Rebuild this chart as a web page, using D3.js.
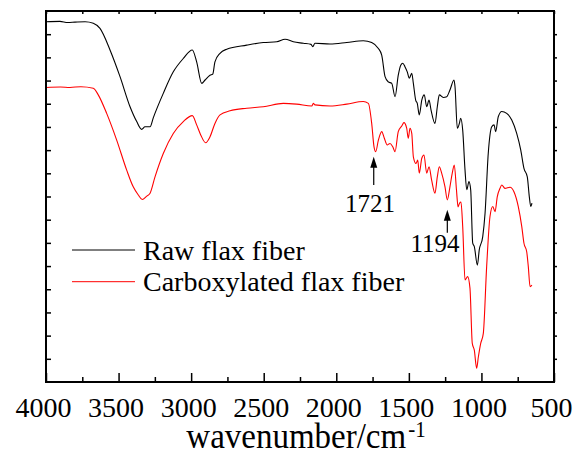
<!DOCTYPE html>
<html>
<head>
<meta charset="utf-8">
<script src="https://cdn.jsdelivr.net/npm/d3@7"></script>
</head>
<body style="margin:0">
<div id="chart"></div>
<script>
// series names and colours
var seriesNames = ["Raw flax fiber", "Carboxylated flax fiber"];
var seriesColors = ["#000000", "#ff0000"];

// x tick labels (wavenumber, cm-1)
var majorTicks = [4000, 3500, 3000, 2500, 2000, 1500, 1000, 500];
var minorTicks = [3750, 3250, 2750, 2250, 1750, 1250, 750];

// spectra: [wavenumber, transmittance (a.u.)]
var rawFlax = [
  [4000, 97.1], [3904, 97.2], [3850, 96.9], [3800, 97.0], [3731, 97.1], [3674, 96.7],
  [3628, 95.3], [3559, 89.5], [3490, 82.3], [3421, 74.2], [3375, 70.2], [3341, 68.1],
  [3318, 68.8], [3283, 68.8], [3261, 71.2], [3192, 77.8], [3123, 83.6], [3054, 87.2],
  [2992, 89.5], [2962, 86.3], [2927, 80.5], [2904, 81.4], [2870, 82.7], [2851, 83.0],
  [2836, 86.3], [2801, 88.6], [2755, 89.7], [2617, 90.8], [2503, 91.5], [2410, 91.7],
  [2353, 92.4], [2296, 91.7], [2227, 91.3], [2174, 91.0], [2162, 90.4], [2147, 91.3],
  [2043, 91.1], [1928, 91.5], [1814, 92.0], [1756, 91.5], [1710, 89.9], [1687, 88.1],
  [1664, 82.3], [1642, 80.9], [1618, 80.5], [1595, 76.9], [1573, 82.7], [1556, 85.4],
  [1542, 85.9], [1527, 85.0], [1511, 83.6], [1497, 81.9], [1480, 83.2], [1469, 80.5],
  [1453, 76.0], [1442, 75.1], [1428, 72.0], [1411, 76.0], [1394, 77.4], [1377, 74.2],
  [1361, 76.0], [1347, 73.3], [1320, 69.7], [1304, 74.2], [1290, 77.4], [1263, 76.7],
  [1239, 76.9], [1217, 78.7], [1189, 81.4], [1182, 79.6], [1166, 68.4], [1152, 69.7],
  [1143, 71.1], [1129, 67.9], [1113, 57.1], [1101, 51.8], [1086, 54.0], [1074, 51.8],
  [1060, 37.4], [1049, 36.5], [1028, 31.5], [1015, 35.6], [991, 39.2], [975, 45.5],
  [953, 61.6], [929, 68.8], [913, 69.3], [902, 67.5], [884, 71.5], [860, 72.9],
  [826, 72.4], [791, 70.6], [757, 67.0], [729, 62.5], [707, 57.6], [684, 55.3],
  [670, 49.9], [660, 47.3], [652, 48.2]
];

var carbFlax = [
  [4000, 79.4], [3900, 79.5], [3835, 79.4], [3760, 79.6], [3674, 79.2], [3640, 77.4],
  [3582, 72.4], [3513, 65.2], [3444, 57.1], [3399, 52.6], [3364, 50.4], [3337, 49.2],
  [3306, 50.1], [3283, 50.9], [3249, 55.3], [3192, 61.6], [3123, 67.0], [3054, 70.2],
  [2992, 71.8], [2962, 69.3], [2934, 66.6], [2900, 64.5], [2870, 66.1], [2836, 69.7],
  [2801, 72.0], [2732, 73.1], [2617, 73.8], [2503, 74.2], [2365, 75.1], [2273, 74.9],
  [2169, 74.4], [2158, 75.1], [2147, 74.7], [2043, 74.4], [1928, 74.9], [1814, 75.6],
  [1779, 75.1], [1756, 69.7], [1740, 63.4], [1728, 62.1], [1710, 65.2], [1687, 67.5],
  [1669, 65.7], [1649, 63.9], [1630, 64.3], [1611, 63.4], [1595, 62.1], [1573, 67.5],
  [1549, 69.0], [1534, 69.9], [1515, 68.4], [1504, 65.7], [1492, 68.4], [1480, 67.0],
  [1469, 60.7], [1451, 58.9], [1439, 59.8], [1428, 56.3], [1411, 60.3], [1396, 61.2],
  [1377, 56.3], [1361, 58.0], [1343, 54.4], [1320, 50.9], [1304, 55.3], [1290, 58.0],
  [1274, 56.3], [1251, 52.6], [1235, 49.1], [1217, 52.6], [1201, 56.3], [1187, 58.5],
  [1172, 51.8], [1161, 47.2], [1151, 48.2], [1141, 48.5], [1129, 41.9], [1113, 27.5],
  [1095, 28.4], [1079, 25.3], [1063, 10.4], [1049, 8.6], [1033, 3.7], [1021, 6.8],
  [1005, 10.4], [987, 13.1], [964, 31.1], [941, 44.6], [922, 47.3], [906, 45.9],
  [891, 49.9], [872, 52.2], [860, 53.1], [838, 52.2], [803, 52.5], [776, 51.3],
  [746, 47.3], [722, 41.9], [707, 37.4], [688, 35.1], [677, 31.1], [665, 25.7],
  [652, 26.1]
];

// peak annotations on the carboxylated spectrum
var peakLabels = ["1721", "1194"];
var peakArrowWn = [1742, 1235];
var peakTipT = [60.7, 46.4];
var peakTailT = [53.1, 40.2];
var peakTextWn = [1768, 1320];
var peakTextT = [45.8, 35.1];

var serif = "'Liberation Serif'";

// SVG wrapper dimensions
var svgWidth = 578;
var svgHeight = 455;

var margin = { top: 11, right: 24, bottom: 73, left: 46 };
var width = svgWidth - margin.left - margin.right;
var height = svgHeight - margin.top - margin.bottom;

var svg = d3.select("#chart")
  .append("svg")
  .attr("width", svgWidth)
  .attr("height", svgHeight);

var chartGroup = svg.append("g")
  .attr("transform", `translate(${margin.left}, ${margin.top})`);

// scales
var xScale = d3.scaleLinear().domain([4000, 500]).range([0, width]);
var yScale = d3.scaleLinear().domain([0, 100]).range([height, 0]);

var yTicks = d3.range(1, 16).map(k => k * 100 / 16);

// bottom axis: major ticks with labels, minor ticks without
var bottomAxis = chartGroup.append("g")
  .attr("class", "axis")
  .attr("transform", `translate(0, ${height})`)
  .call(d3.axisBottom(xScale).tickValues(majorTicks).tickFormat(d3.format("d"))
    .tickSizeInner(-9).tickSizeOuter(0).tickPadding(15));
bottomAxis.selectAll("text")
  .attr("dx", "-3")
  .attr("fill", "#000")
  .style("font-family", serif)
  .style("font-size", "28px");

chartGroup.append("g")
  .attr("class", "axis")
  .attr("transform", `translate(0, ${height})`)
  .call(d3.axisBottom(xScale).tickValues(minorTicks).tickSizeInner(-5).tickSizeOuter(0).tickFormat(""));

// top, left and right mirror ticks
chartGroup.append("g")
  .attr("class", "axis")
  .call(d3.axisTop(xScale).tickValues(majorTicks.concat(minorTicks)).tickSizeInner(-3).tickSizeOuter(0).tickFormat(""));

chartGroup.append("g")
  .attr("class", "axis")
  .call(d3.axisLeft(yScale).tickValues(yTicks).tickSizeInner(-5).tickSizeOuter(0).tickFormat(""));

chartGroup.append("g")
  .attr("class", "axis")
  .attr("transform", `translate(${width}, 0)`)
  .call(d3.axisRight(yScale).tickValues(yTicks).tickSizeInner(3).tickSizeOuter(0).tickFormat(""));

chartGroup.selectAll(".axis .domain").remove();
chartGroup.selectAll(".axis line").attr("stroke", "#000").attr("stroke-width", 1.5);

// spectra
var line = d3.line()
  .x(d => xScale(d[0]))
  .y(d => yScale(d[1]))
  .curve(d3.curveMonotoneX);

[rawFlax, carbFlax].forEach(function(series, i) {
  chartGroup.append("path")
    .datum(series)
    .attr("fill", "none")
    .attr("stroke", seriesColors[i])
    .attr("stroke-width", 1.1)
    .attr("d", line);
});

// frame
chartGroup.append("rect")
  .attr("x", 0)
  .attr("y", 0)
  .attr("width", width)
  .attr("height", height)
  .attr("fill", "none")
  .attr("stroke", "#000")
  .attr("stroke-width", 2);

// legend
seriesNames.forEach(function(name, i) {
  var ly = 239 + i * 31.7;
  chartGroup.append("line")
    .attr("x1", 26).attr("x2", 89)
    .attr("y1", ly).attr("y2", ly)
    .attr("stroke", seriesColors[i])
    .attr("stroke-width", 1);
  chartGroup.append("text")
    .attr("x", 97)
    .attr("y", ly + 9.5)
    .style("font-family", serif)
    .style("font-size", "28px")
    .text(name);
});

// peak arrows and labels
peakLabels.forEach(function(label, i) {
  var ax = xScale(peakArrowWn[i]);
  var tip = yScale(peakTipT[i]);
  var tail = yScale(peakTailT[i]);
  chartGroup.append("line")
    .attr("x1", ax).attr("x2", ax)
    .attr("y1", tail).attr("y2", tip + 8)
    .attr("stroke", "#000")
    .attr("stroke-width", 1.2);
  chartGroup.append("path")
    .attr("d", `M${ax},${tip} L${ax - 3.5},${tip + 11} L${ax + 3.5},${tip + 11} Z`)
    .attr("fill", "#000");
  chartGroup.append("text")
    .attr("x", xScale(peakTextWn[i]))
    .attr("y", yScale(peakTextT[i]))
    .style("font-family", serif)
    .style("font-size", "25px")
    .style("text-anchor", "middle")
    .text(label);
});

// axis title, a little taller than wide as in the original
var title = svg.append("text")
  .attr("transform", "translate(306, 448) scale(1, 1.07)")
  .style("font-family", serif)
  .style("font-size", "33px")
  .style("text-anchor", "middle");
title.append("tspan").text("wavenumber/cm");
title.append("tspan")
  .attr("dx", "2")
  .attr("dy", "-10")
  .style("font-size", "21px")
  .text("-1");
</script>
</body>
</html>
